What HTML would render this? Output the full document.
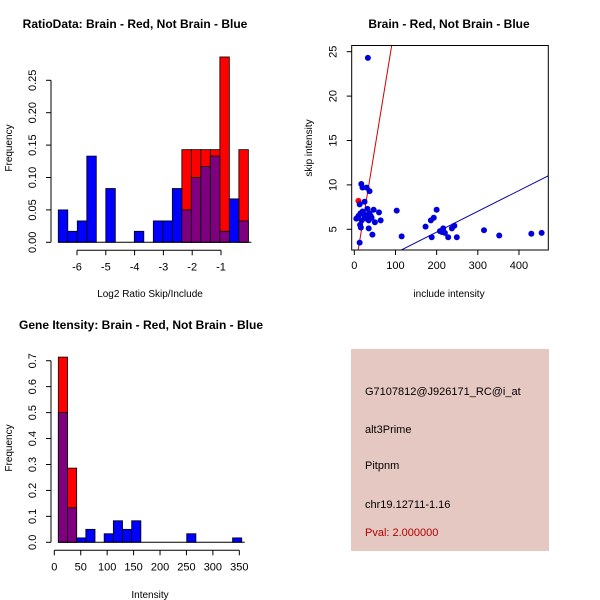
<!DOCTYPE html>
<html><head><meta charset="utf-8"><style>
body{margin:0;background:#fff}
svg{display:block;font-family:"Liberation Sans",sans-serif}
</style></head><body>
<svg id="c" width="600" height="600" xmlns="http://www.w3.org/2000/svg">
<rect width="600" height="600" fill="#fff"/>
<g id="info">
<rect x="351" y="349" width="198" height="202" fill="#e6c8c2"/>
<text x="365" y="395" font-size="11">G7107812@J926171_RC@i_at</text>
<text x="365" y="433" font-size="11">alt3Prime</text>
<text x="365" y="469" font-size="11">Pitpnm</text>
<text x="365" y="508" font-size="11">chr19.12711-1.16</text>
<text x="365" y="536" font-size="11" fill="#b00000">Pval: 2.000000</text>
</g>
</svg>
<script>
// ---- Ratio histogram data ----
const ratioStart = -6.65, ratioWidth = 0.33;
const ratioBlue = [0.05,0.017,0.033,0.133,0,0.083,0,0,0.017,0,0.033,0.033,0.083,0.05,0.1,0.117,0.133,0.017,0.067,0.033];
const ratioRed  = [0,0,0,0,0,0,0,0,0,0,0,0,0,0.143,0.143,0.143,0.143,0.286,0,0.143];
const ratioXTicks = [-6,-5,-4,-3,-2,-1];
const ratioYTicks = ["0.00","0.05","0.10","0.15","0.20","0.25"];
// ---- Intensity histogram data ----
const intStart = 7.6, intWidth = 17.35;
const intBlue = [0.5,0.133,0.017,0.05,0,0.033,0.083,0.05,0.083,0,0,0,0,0,0.033,0,0,0,0,0.017];
const intRed  = [0.714,0.286,0,0,0,0,0,0,0,0,0,0,0,0,0,0,0,0,0,0];
const intXTicks = [0,50,100,150,200,250,300,350];
const intYTicks = ["0.0","0.1","0.2","0.3","0.4","0.5","0.6","0.7"];
// ---- Scatter data ----
const incl = [33,17,20,30,37,13,25,103,47,60,64,50,35,44,13,115,5,10,15,20,25,30,35,40,42,14,16,18,22,28,32,37,173,186,193,200,188,208,213,216,220,228,237,243,249,315,352,430,455];
const skip = [24.3,10.1,9.7,9.7,9.3,7.8,8.1,7.1,7.2,6.9,6.0,5.8,5.1,4.4,3.5,4.2,6.2,6.5,6.8,7.0,6.5,6.2,6.0,6.5,6.3,5.5,5.2,6.0,6.8,6.6,7.3,6.8,5.3,6.0,6.3,7.2,4.1,4.8,4.7,5.1,4.6,4.1,5.1,5.4,4.1,4.9,4.3,4.5,4.6];
const redIncl = [10], redSkip = [8.2];
const redSlope = 0.283, blueSlope = 0.0234;
const scXTicks = [0,100,200,300,400];
const scYTicks = [5,10,15,20,25];

const svg = document.getElementById('c');
const NS = 'http://www.w3.org/2000/svg';
function el(tag, attrs, parent){const e=document.createElementNS(NS,tag);for(const k in attrs)e.setAttribute(k,attrs[k]);(parent||svg).appendChild(e);return e;}
function txt(x,y,s,attrs,parent){const t=el('text',Object.assign({x:x,y:y,'font-size':11,'text-anchor':'middle'},attrs||{}),parent);t.textContent=s;return t;}

function histogram(o){
  const g=el('g',{});
  
  
  const sx=v=>o.x0+(v-o.xv0)*o.xs, sy=v=>o.y0-v*o.ys;
  for(let i=0;i<o.red.length;i++){
    const a=sx(o.start+i*o.w), b=sx(o.start+(i+1)*o.w);
    if(o.red[i]>0){const r=el('rect',{x:a,y:sy(o.red[i]),width:b-a,height:o.red[i]*o.ys,fill:'#ff0000',stroke:'#000','stroke-width':0.8},g);
      
      }
  }
  for(let i=0;i<o.blue.length;i++){
    const a=sx(o.start+i*o.w), b=sx(o.start+(i+1)*o.w);
    if(o.blue[i]>0){const r=el('rect',{x:a,y:sy(o.blue[i]),width:b-a,height:o.blue[i]*o.ys,fill:o.red[i]>0?'#7f007f':'#0000ff',stroke:'#000','stroke-width':0.8},g);
      
      }
  }
  el('line',{x1:sx(o.start),x2:sx(o.start+o.blue.length*o.w)+3,y1:o.y0,y2:o.y0,stroke:'#000'},g);
  const xa=o.y0+8;
  el('line',{x1:sx(o.xt[0]),x2:sx(o.xt[o.xt.length-1]),y1:xa,y2:xa,stroke:'#000'},g);
  o.xt.forEach(v=>{el('line',{x1:sx(v),x2:sx(v),y1:xa,y2:xa+5,stroke:'#000'},g);const t=txt(sx(v),xa+20,String(v),{},g);
    });
  const yax=o.yaxX;
  el('line',{x1:yax,x2:yax,y1:sy(0),y2:sy(parseFloat(o.yt[o.yt.length-1])),stroke:'#000'},g);
  o.yt.forEach(s=>{const v=parseFloat(s),y=sy(v);el('line',{x1:yax-5,x2:yax,y1:y,y2:y,stroke:'#000'},g);
    const t=txt(yax-15,y,s,{transform:`rotate(-90 ${yax-15} ${y})`},g);
    });
  const tt=txt(o.titleX,o.titleY,o.title,{'font-size':12,'font-weight':'bold'},g);
  
  const xl=txt(o.xlX,o.xlY,o.xlab,{'font-size':10},g);
  
  const yl=txt(12,o.ylY,'Frequency',{'font-size':10,transform:`rotate(-90 12 ${o.ylY})`},g);
  
}
histogram({name:'ratio-histogram',red:ratioRed,blue:ratioBlue,start:ratioStart,w:ratioWidth,x0:77,xv0:-6,xs:28.8,y0:242.3,ys:648,
  xt:ratioXTicks,yt:ratioYTicks,yaxX:51,title:'RatioData: Brain - Red, Not Brain - Blue',titleX:135,titleY:28,xlab:'Log2 Ratio Skip/Include',xlX:150,xlY:297,ylY:148});
histogram({name:'intensity-histogram',red:intRed,blue:intBlue,start:intStart,w:intWidth,x0:54.3,xv0:0,xs:0.5286,y0:542.3,ys:259.4,
  xt:intXTicks,yt:intYTicks,yaxX:51,title:'Gene Itensity: Brain - Red, Not Brain - Blue',titleX:141,titleY:329,xlab:'Intensity',xlX:150,xlY:598,ylY:448});

(function(){
  const g=el('g',{});
  
  
  const sx=v=>354.3+v*0.4117, sy=v=>229.3-(v-5)*8.88;
  const L=351.7,R=548.3,T=45.5,B=250;
  const cp=el('clipPath',{id:'clp'},g);
  el('rect',{x:L,y:T,width:R-L,height:B-T},cp);
  const xmin=-10,xmax=480;
  const rl=el('line',{x1:sx(xmin),y1:sy(redSlope*xmin),x2:sx(xmax),y2:sy(redSlope*xmax),stroke:'#cc0000','stroke-width':1,'clip-path':'url(#clp)'},g);
  
  const bl=el('line',{x1:sx(xmin),y1:sy(blueSlope*xmin),x2:sx(xmax),y2:sy(blueSlope*xmax),stroke:'#0000aa','stroke-width':1,'clip-path':'url(#clp)'},g);
  
  redIncl.forEach((v,i)=>{const c=el('circle',{cx:sx(v),cy:sy(redSkip[i]),r:3,fill:'#ff0000'},g);
    });
  incl.forEach((v,i)=>{const c=el('circle',{cx:sx(v),cy:sy(skip[i]),r:3,fill:'#0000dd'},g);
    });
  el('rect',{x:L,y:T,width:R-L,height:B-T,fill:'none',stroke:'#000'},g);
  scXTicks.forEach(v=>{el('line',{x1:sx(v),x2:sx(v),y1:B,y2:B+5,stroke:'#000'},g);const t=txt(sx(v),B+19,String(v),{},g);
    });
  scYTicks.forEach(v=>{const y=sy(v);el('line',{x1:L-5,x2:L,y1:y,y2:y,stroke:'#000'},g);const t=txt(L-15,y,String(v),{transform:`rotate(-90 ${L-15} ${y})`},g);
    });
  const tt=txt(449,28,'Brain - Red, Not Brain - Blue',{'font-size':12,'font-weight':'bold'},g);
  
  const xl=txt(449,297,'include intensity',{'font-size':10},g);
  
  const yl=txt(312,148,'skip intensity',{'font-size':10,transform:'rotate(-90 312 148)'},g);
  
})();
svg.appendChild(document.getElementById('info'));
</script>
</body></html>
